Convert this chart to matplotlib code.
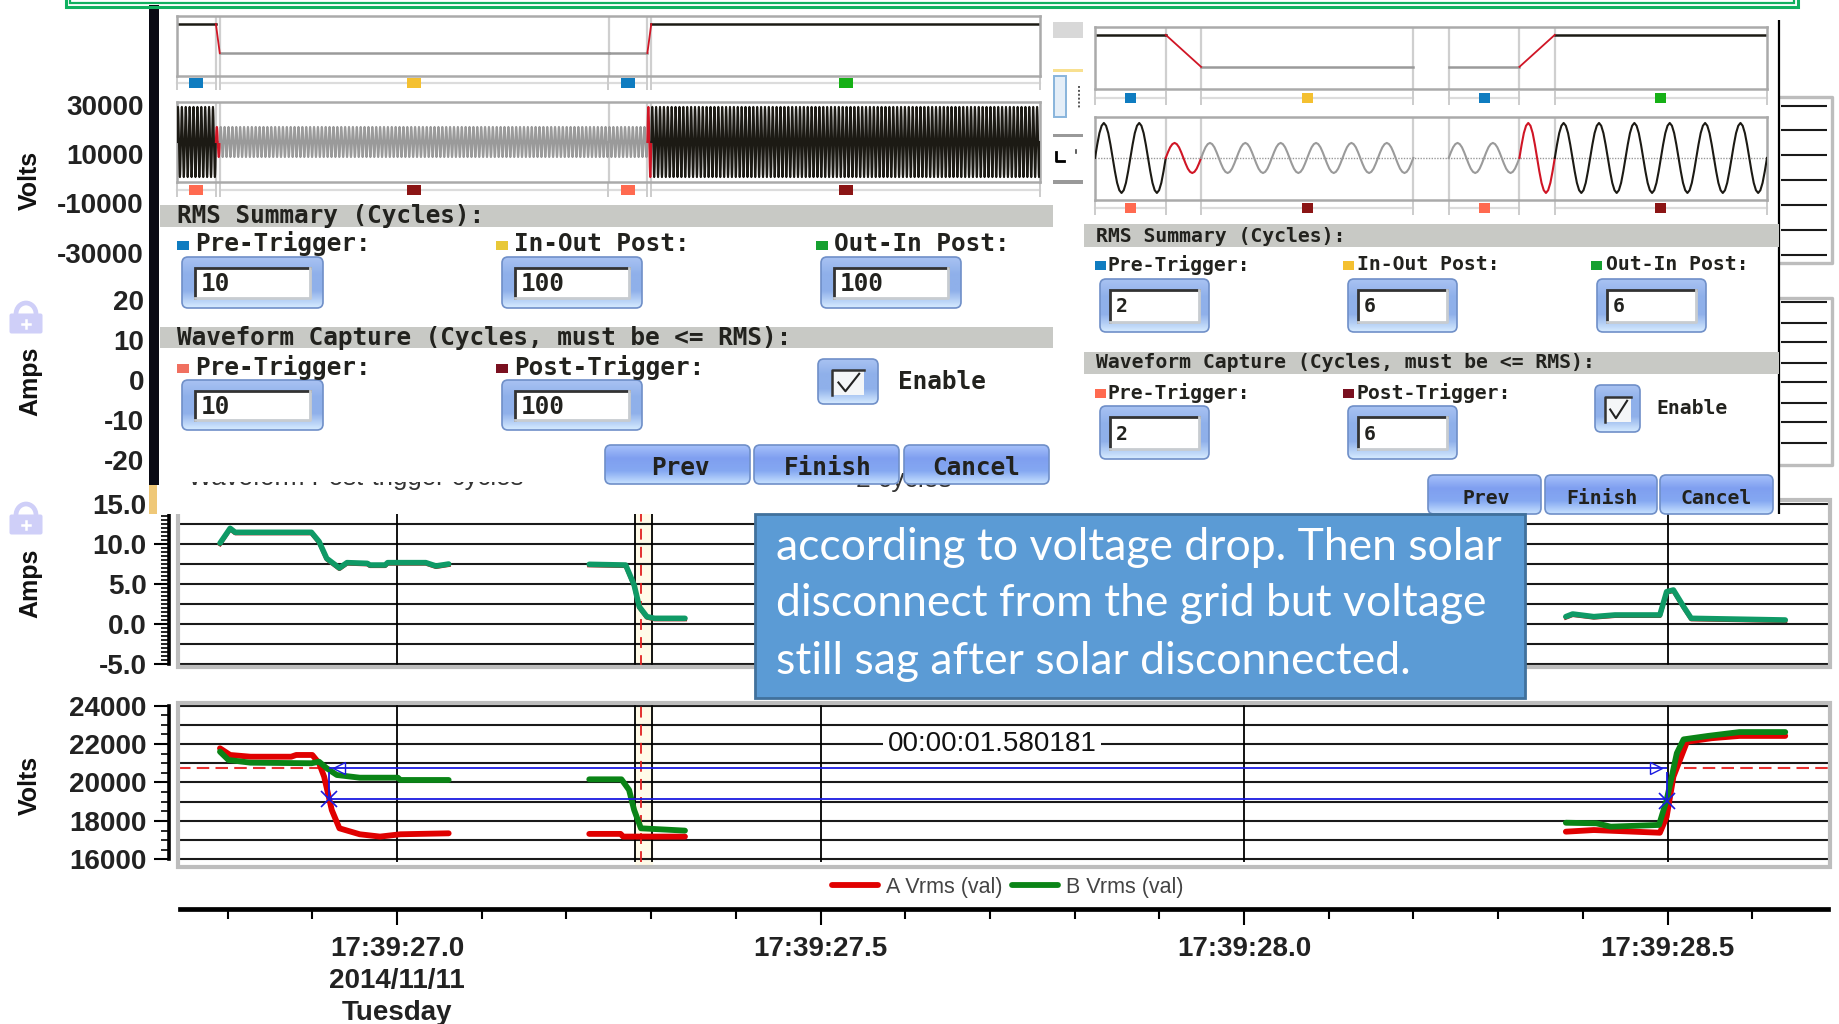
import numpy as np
import matplotlib
matplotlib.use('Agg')
import matplotlib.pyplot as plt
from matplotlib.patches import Rectangle, FancyBboxPatch, Arc

W, H = 1839, 1024
plt.rcParams['font.family'] = ['Liberation Sans', 'DejaVu Sans']

# ---- bottom charts data (seconds after 17:39:00)
amps_x = [[26.791, 26.803, 26.809, 26.899, 26.908, 26.917, 26.932, 26.941, 26.965, 26.968, 26.986, 26.989, 27.034, 27.046, 27.061],
          [27.227, 27.270, 27.280, 27.286, 27.295, 27.304, 27.340],
          [28.38, 28.388, 28.413, 28.438, 28.491, 28.499, 28.507, 28.519, 28.528, 28.639]]
amps_y = [[10.1, 11.96, 11.46, 11.46, 10.3, 8.2, 7.0, 7.67, 7.58, 7.37, 7.37, 7.67, 7.67, 7.25, 7.5],
          [7.46, 7.37, 4.87, 2.17, 0.92, 0.71, 0.71],
          [0.92, 1.25, 0.92, 1.13, 1.13, 4.04, 4.25, 2.17, 0.71, 0.5]]

va_x = [[26.791, 26.803, 26.827, 26.875, 26.881, 26.900, 26.908, 26.914, 26.923, 26.932, 26.956, 26.980, 27.004, 27.061],
        [27.227, 27.264, 27.267, 27.340],
        [28.38, 28.413, 28.491, 28.499, 28.507, 28.523, 28.552, 28.585, 28.639]]
va_y = [[21777, 21430, 21340, 21340, 21430, 21430, 21000, 20300, 18570, 17620, 17310, 17190, 17310, 17360],
        [17330, 17330, 17190, 17190],
        [17445, 17530, 17390, 18220, 20300, 22120, 22300, 22420, 22420]]
vb_x = [[26.791, 26.801, 26.827, 26.899, 26.908, 26.917, 26.929, 26.956, 27.001, 27.004, 27.061],
        [27.227, 27.265, 27.274, 27.280, 27.288, 27.340],
        [28.38, 28.416, 28.433, 28.490, 28.499, 28.511, 28.519, 28.548, 28.585, 28.639]]
vb_y = [[21600, 21170, 21030, 21000, 21080, 20740, 20390, 20250, 20250, 20130, 20130],
        [20165, 20165, 19610, 18570, 17620, 17500],
        [17910, 17880, 17705, 17795, 19090, 21520, 22240, 22420, 22620, 22620]]

time_major = [27.0, 27.5, 28.0, 28.5]
time_minor = [26.8, 26.9, 27.1, 27.2, 27.3, 27.4, 27.6, 27.7, 27.8, 27.9, 28.1, 28.2, 28.3, 28.4, 28.6]
time_labels = ['17:39:27.0\n2014/11/11\nTuesday', '17:39:27.5', '17:39:28.0', '17:39:28.5']
cursor_band = [27.281, 27.3006]
cursor_red = 27.288
cursor_left, cursor_right = 26.920, 28.499
level_hi, level_lo = 20740, 19140
elapsed = '00:00:01.580181'

# ---- dialog data: (cycles, amplitude, colour), amplitude None = gap
one_cycle = [0, .38, .71, .92, 1, .92, .71, .38, 0, -.38, -.71, -.92, -1, -.92, -.71, -.38]
BLK, GRY, RED = '#1c1a14', '#9a9a9a', '#d01525'
segs_left = [(10, 1, BLK), (1, .43, RED), (100, .43, GRY), (10, .43, GRY), (1, 1, RED), (100, 1, BLK)]
segs_right = [(2, 1, BLK), (1, .43, RED), (6, .43, GRY), (1, None, None), (2, .43, GRY), (1, 1, RED), (6, 1, BLK)]
left_values = [['10', '100', '100'], ['10', '100']]
right_values = [['2', '6', '6'], ['2', '6']]
volts_side = [('30000', 108), ('10000', 157), ('-10000', 206), ('-30000', 256)]
amps_side = [('20', 303), ('10', 343), ('0', 383), ('-10', 423), ('-20', 463)]
note_lines = ['according to voltage drop. Then solar', 'disconnect from the grid but voltage', 'still sag after solar disconnected.']

PX_S = 847


def px_axes(x0, y0, x1, y1, z=1):
    return fig.add_axes([x0 / W, 1 - y1 / H, (x1 - x0) / W, (y1 - y0) / H], zorder=z)


fig = plt.figure(figsize=(W / 100, H / 100), dpi=100, facecolor='white')

# ---- Amps / Volts charts
X0, X1 = 178, 1830
xlim = (27 + (X0 - 397) / PX_S, 27 + (X1 - 397) / PX_S)
ax_a = px_axes(X0, 500, X1, 667)
ax_v = px_axes(X0, 703, X1, 867)
ax_a.set_ylim(-5.375, 15.5)
ax_v.set_ylim(15610, 24130)
for ax, grid, major, minor, fmt in [
        (ax_a, np.arange(-5, 15.1, 2.5), [-5, 0, 5, 10, 15], np.arange(-5, 15.1, .5), '%.1f'),
        (ax_v, np.arange(16000, 24001, 1000), [16000, 18000, 20000, 22000, 24000], np.arange(16000, 24001, 500), '%d')]:
    ax.set_xlim(xlim)
    ax.add_patch(Rectangle((0, 0), 1, 1, transform=ax.transAxes, fill=False, ec='#bdbdbd', lw=3, clip_on=False, zorder=6))
    for s in ['top', 'right', 'bottom']:
        ax.spines[s].set_visible(False)
    ax.spines['left'].set_position(('outward', 6.6))
    ax.spines['left'].set_linewidth(2.6)
    ax.spines['left'].set_bounds(grid[0], grid[-1])
    ax.set_xticks([])
    ax.set_yticks(major)
    ax.set_yticklabels([fmt % m for m in major], fontsize=20, fontweight='bold', color='#222222')
    ax.set_yticks(minor, minor=True)
    ax.tick_params(axis='y', which='major', length=11, width=1.5, pad=5)
    ax.tick_params(axis='y', which='minor', length=6, width=1.2)
    ax.hlines(grid, xlim[0], xlim[1], color='#1a1a1a', lw=1.5, zorder=1)
    ymin = grid[0] - (grid[-1] - grid[0]) * .015
    ax.axvspan(cursor_band[0], cursor_band[1], color='#fffbe8', zorder=0)
    ax.vlines(time_major + cursor_band, ymin, ax.get_ylim()[1], color='black', lw=1.3, zorder=2)
    ax.vlines(cursor_red, ymin, ax.get_ylim()[1], color='#e02020', lw=1.3, ls=(0, (6, 4)), zorder=2)

for xs, ys in zip(amps_x, amps_y):
    ax_a.plot(xs, np.array(ys) - .12, color='#b01818', lw=3, zorder=3)
    ax_a.plot(xs, ys, color='#0f9a66', lw=4, zorder=4, solid_capstyle='round')
for i in range(3):
    line_a, = ax_v.plot(va_x[i], va_y[i], color='#e00000', lw=4.2, zorder=3, solid_capstyle='round')
for i in range(3):
    line_b, = ax_v.plot(vb_x[i], vb_y[i], color='#0a8416', lw=4.2, zorder=4, solid_capstyle='round')

ax_v.hlines(level_hi, xlim[0], cursor_left, color='#e83030', lw=1.5, ls=(0, (6, 3)), zorder=2)
ax_v.hlines(level_hi, 28.52, xlim[1], color='#e83030', lw=1.5, ls=(0, (6, 3)), zorder=2)
ax_v.hlines([level_hi, level_lo], cursor_left, cursor_right, color='#1a1ae0', lw=1.3, zorder=5)
ax_v.vlines([cursor_left, cursor_right], level_lo, level_hi - 200, color='#1a1ae0', lw=1.3, zorder=5)
ax_v.plot([cursor_left, cursor_right], [level_lo, level_lo - 100], 'x', color='#1a1ae0', ms=11, mew=1.2, ls='none', zorder=5)
ax_v.plot([cursor_left + .012], [level_hi], '<', mfc='none', mec='#1a1ae0', ms=9, zorder=5)
ax_v.plot([cursor_right - .012], [level_hi], '>', mfc='none', mec='#1a1ae0', ms=9, zorder=5)
ax_v.text(27 + (992 - 397) / PX_S, 22000, elapsed, ha='center', va='center', fontsize=20, color='#111111',
          bbox=dict(fc='white', ec='none', pad=3), zorder=5)
ax_v.legend([line_a, line_b], ['A Vrms (val)', 'B Vrms (val)'], ncol=2, frameon=False, fontsize=15.5,
            labelcolor='#444444', loc='center', bbox_to_anchor=((1008 - X0) / (X1 - X0), -0.125),
            handlelength=2.1, handletextpad=.4, columnspacing=.45, borderpad=0)

# ---- time axis
ax_t = px_axes(180, 880, 1828, 909)
ax_t.set_xlim(27 + (180 - 397) / PX_S, 27 + (1828 - 397) / PX_S)
ax_t.set_ylim(0, 1)
ax_t.patch.set_visible(False)
for s in ['top', 'right', 'left']:
    ax_t.spines[s].set_visible(False)
ax_t.spines['bottom'].set_linewidth(3.4)
ax_t.set_yticks([])
ax_t.set_xticks(time_major)
ax_t.set_xticklabels(time_labels, fontsize=20, fontweight='bold', color='#222222', linespacing=1.3)
ax_t.set_xticks(time_minor, minor=True)
ax_t.tick_params(axis='x', which='major', length=11.5, width=1.5, pad=8)
ax_t.tick_params(axis='x', which='minor', length=7, width=1.5)

# ---- overlay in pixels
ov = px_axes(0, 0, W, H, z=5)
ov.set_xlim(0, W)
ov.set_ylim(H, 0)
ov.axis('off')
ov.patch.set_visible(False)


def rect(x0, y0, x1, y1, color, z=1, **kw):
    ov.add_patch(Rectangle((x0, y0), x1 - x0, y1 - y0, fc=color, ec='none', zorder=z, **kw))


def grad_box(x0, y0, x1, y1, colors, z=3, edge='#6f8fc8'):
    box = FancyBboxPatch((x0 + 3, y0 + 3), x1 - x0 - 6, y1 - y0 - 6, boxstyle='round,pad=3,rounding_size=6',
                         fc='none', ec=edge, lw=1.2, zorder=z + .1)
    ov.add_patch(box)
    rgb = matplotlib.colors.to_rgba_array(colors)[:, :3]
    pos = np.linspace(0, 1, 40)
    img = np.stack([np.interp(pos, np.linspace(0, 1, len(colors)), rgb[:, c]) for c in range(3)], axis=1)[:, None, :]
    im = ov.imshow(img, extent=(x0, x1, y1, y0), aspect='auto', zorder=z, origin='upper')
    im.set_clip_path(box)


def gui_text(x, y, s, size, **kw):
    ov.text(x, y, s, fontsize=size, fontweight='bold', family='DejaVu Sans Mono', color='#22221e', va='center', zorder=6, **kw)


def input_box(x0, y0, x1, y1, val, size, dx, row_h):
    grad_box(x0, y0, x1, y1, ['#a8c2f2', '#8fb0ea', '#8fb0ea', '#d5eaff'])
    ix0, iy0, ix1, iy1 = x0 + dx, y0 + row_h, x1 - dx, y1 - row_h + 1
    rect(ix0, iy0, ix1, iy1, 'white', z=4)
    ov.plot([ix0, ix0, ix1], [iy1, iy0, iy0], color='#333333', lw=2, zorder=5, solid_joinstyle='miter')
    ov.plot([ix0, ix1, ix1], [iy1, iy1, iy0], color='#c8ccd0', lw=2, zorder=5)
    gui_text(ix0 + 6, (iy0 + iy1) / 2 + 1, val, size)


def check_box(x0, y0, x1, y1, ix0, iy0, ix1, iy1):
    grad_box(x0, y0, x1, y1, ['#a8c2f2', '#8fb0ea', '#8fb0ea', '#d5eaff'])
    rect(ix0, iy0, ix1, iy1, '#f4f6f8', z=4)
    ov.plot([ix0, ix0, ix1], [iy1, iy0, iy0], color='#333333', lw=1.8, zorder=5)
    w, h = ix1 - ix0, iy1 - iy0
    ov.plot([ix0 + .2 * w, ix0 + .42 * w, ix0 + .85 * w], [iy0 + .5 * h, iy0 + .85 * h, iy0 + .15 * h],
            color='#222222', lw=1.5, zorder=5)


def button(x0, y0, x1, y1, label, xc, yc, size):
    grad_box(x0, y0, x1, y1, ['#a6c0fa', '#7f9ff0', '#85a8f2', '#c5e0ff'])
    gui_text(xc, yc, label, size, ha='center')


def wave_panels(segs, x0, x1, rms_box, wave_box, rms_lim, wave_lim, strip1, strip2, dotted, mk_w, wave_lw):
    total = sum(s[0] for s in segs)
    to_px = lambda c: x0 + (x1 - x0) * c / total
    ax_r = px_axes(x0, rms_box[0], x1, rms_box[1], z=7)
    ax_w = px_axes(x0, wave_box[0], x1, wave_box[1], z=7)
    ax_r.set_ylim(rms_lim)
    ax_w.set_ylim(wave_lim)
    edges = np.cumsum([0] + [s[0] for s in segs])
    for ax in (ax_r, ax_w):
        ax.set_xlim(0, total)
        ax.set_xticks([])
        ax.set_yticks([])
        ax.patch.set_visible(False)
        for sp in ax.spines.values():
            sp.set_color('#aaaaaa')
            sp.set_linewidth(1.8)
        ax.vlines(edges[1:-1], *ax.get_ylim(), color='#cfcfcf', lw=1.6, zorder=1)
    if dotted:
        ax_w.axhline(0, color='#999999', lw=1, ls=(0, (1, 1)), zorder=1)
    for i, (n, amp, col) in enumerate(segs):
        if amp is None:
            continue
        st = edges[i]
        xs = st + np.arange(n * len(one_cycle) + 1) / len(one_cycle)
        ys = amp * np.array(one_cycle * n + [0])
        ax_w.plot(xs, ys, color=col, lw=wave_lw, zorder=3)
        if col == RED:
            ax_r.plot([st, st + n], [segs[i - 1][1], segs[i + 1][1]], color=col, lw=1.3, zorder=3)
        else:
            ax_r.plot([st, st + n], [amp, amp], color=col, lw=1.8, zorder=2)
    # marker strips under both panels
    for i, (n, amp, col) in enumerate(segs):
        if amp is None or col == RED:
            continue
        a, b = to_px(edges[i]), to_px(edges[i + 1])
        if i + 1 < len(segs) and segs[i + 1][2] == RED:
            c1, c2 = '#0f7cc0', '#ff6a50'
        elif amp < 1:
            c1, c2 = '#f4c030', '#8b1515'
        else:
            c1, c2 = '#16b016', '#8b1515'
        for yc, c in ((strip1, c1), (strip2, c2)):
            ov.plot([a, b], [yc, yc], color='#dcdcdc', lw=1.6, zorder=2)
            ov.vlines([a, b], yc - 7, yc + 7, color='#cccccc', lw=1.4, zorder=2)
            rect((a + b) / 2 - mk_w / 2, yc - 5, (a + b) / 2 + mk_w / 2, yc + 5, c, z=3)


# covers and bars
rect(157, 0, 1053, 514, 'white', z=1)
rect(1053, 0, 1779, 514, 'white', z=1)
rect(149, 5, 159, 485, '#0a0a14', z=2)
rect(149, 485, 157, 514, '#efc878', z=2)
ov.vlines(1779, 20, 514, color='black', lw=1.6, zorder=2)

# green border on top
ov.add_patch(Rectangle((66, -6), 1732, 13, fc='none', ec='#10b060', lw=2.2, zorder=8))
ov.add_patch(Rectangle((70, -6), 1724, 9, fc='none', ec='#10b060', lw=1.6, zorder=8))

# bit of a window showing between the two dialogs
rect(1053, 22, 1083, 38, '#d8d8d8', z=2)
rect(1053, 69, 1083, 72, '#f8e090', z=2)
ov.add_patch(Rectangle((1054, 76), 12, 41, fc='#e4eef8', ec='#88b4dc', lw=1.4, zorder=2))
ov.plot([1079, 1079], [86, 108], color='#555555', lw=1.4, ls=(0, (1, 1)), zorder=2)
rect(1053, 134, 1083, 137, '#999999', z=2)
rect(1053, 180, 1083, 184, '#999999', z=2)
ov.plot([1056, 1056, 1064], [152, 161, 161], color='black', lw=2, zorder=2)
ov.plot([1076, 1076], [150, 153], color='#444444', lw=1.2, zorder=2)

# left dialog
FS1, FS2 = 17.6, 14.2
wave_panels(segs_left, 177, 1040, (16, 76), (102, 182), (-.02, 1.157), (-1.14, 1.14), 83, 190, False, 14, 1.5)
rect(160, 205, 1053, 227, '#c8c9c5', z=2)
rect(160, 327, 1053, 348, '#c8c9c5', z=2)
gui_text(177, 216, 'RMS Summary (Cycles):', FS1)
gui_text(177, 338, 'Waveform Capture (Cycles, must be <= RMS):', FS1)
for x_sq, x_tx, lab, col in [(177, 195, 'Pre-Trigger:', '#0f7cc0'), (496, 514, 'In-Out Post:', '#e8c838'), (816, 834, 'Out-In Post:', '#16a030')]:
    rect(x_sq, 241, x_sq + 12, 250, col, z=3)
    gui_text(x_tx, 244, lab, FS1)
for x_sq, x_tx, lab, col in [(177, 195, 'Pre-Trigger:', '#f07060'), (496, 514, 'Post-Trigger:', '#7a1020')]:
    rect(x_sq, 364, x_sq + 12, 373, col, z=3)
    gui_text(x_tx, 367, lab, FS1)
for (x0, x1), v in zip([(182, 323), (502, 642), (821, 961)], left_values[0]):
    input_box(x0, 257, x1, 308, v, FS1, 13, 11)
for (x0, x1), v in zip([(182, 323), (502, 642)], left_values[1]):
    input_box(x0, 380, x1, 430, v, FS1, 13, 11)
check_box(818, 359, 878, 404, 832, 370, 864, 395)
gui_text(898, 382, 'Enable', FS1)
ov.text(188, 478, 'Waveform Post-trigger cycles', fontsize=18.5, color='#333333', va='center', zorder=2)
ov.text(856, 480, '2 cycles', fontsize=19, color='#333333', va='center', zorder=2)
rect(160, 440, 604, 482, 'white', z=2.5)
button(605, 445, 750, 484, 'Prev', 680, 468, FS1)
button(754, 445, 899, 484, 'Finish', 828, 468, FS1)
button(904, 445, 1049, 484, 'Cancel', 976, 468, FS1)

# right dialog
wave_panels(segs_right, 1095, 1767, (27, 89), (117, 200), (.036, 1.14), (-1.2, 1.17), 98, 208, True, 11, 1.5)
rect(1084, 224, 1779, 247, '#c8c9c5', z=2)
rect(1084, 352, 1779, 374, '#c8c9c5', z=2)
gui_text(1096, 236, 'RMS Summary (Cycles):', FS2)
gui_text(1096, 363, 'Waveform Capture (Cycles, must be <= RMS):', FS2)
for x_sq, x_tx, lab, col in [(1095, 1108, 'Pre-Trigger:', '#0f7cc0'), (1343, 1357, 'In-Out Post:', '#f4c030'), (1591, 1606, 'Out-In Post:', '#16a030')]:
    rect(x_sq, 261, x_sq + 11, 270, col, z=3)
    gui_text(x_tx, 265, lab, FS2)
for x_sq, x_tx, lab, col in [(1095, 1108, 'Pre-Trigger:', '#ff6a50'), (1343, 1357, 'Post-Trigger:', '#7a1020')]:
    rect(x_sq, 389, x_sq + 11, 398, col, z=3)
    gui_text(x_tx, 393, lab, FS2)
for (x0, x1), v in zip([(1100, 1209), (1348, 1457), (1597, 1706)], right_values[0]):
    input_box(x0, 279, x1, 332, v, FS2, 10, 11)
for (x0, x1), v in zip([(1100, 1209), (1348, 1457)], right_values[1]):
    input_box(x0, 406, x1, 459, v, FS2, 10, 11)
check_box(1595, 385, 1640, 432, 1605, 397, 1631, 422)
gui_text(1656, 409, 'Enable', FS2)
button(1428, 475, 1541, 514, 'Prev', 1486, 499, FS2)
button(1545, 475, 1657, 514, 'Finish', 1602, 499, FS2)
button(1660, 475, 1773, 514, 'Cancel', 1716, 499, FS2)

# bits of other charts to the right of it
for y0, y1, rows in [(97, 263, [106, 130, 155, 180, 205, 230, 255]), (298, 465, [302, 323, 342, 363, 382, 403, 422, 443])]:
    ov.plot([1780, 1832, 1832, 1780], [y0, y0, y1, y1], color='#bdbdbd', lw=2.4, zorder=1.5)
    ov.hlines(rows, 1781, 1827, color='#1a1a1a', lw=1.5, zorder=2)

# left side labels that belong to the covered charts
for lab, y in volts_side + amps_side:
    ov.text(144, y, lab, ha='right', va='center', fontsize=20, fontweight='bold', color='#222222', zorder=3)
for lab, y in [('Volts', 180), ('Amps', 381), ('Amps', 583), ('Volts', 785)]:
    ov.text(30, y, lab, rotation=90, ha='center', va='center', fontsize=18, fontweight='bold', color='#111111', zorder=3)
for y0 in (302, 503):
    ov.add_patch(Arc((26, y0 + 12), 20, 22, theta1=180, theta2=360, ec='#cfcff8', lw=3.4, zorder=3))
    ov.add_patch(FancyBboxPatch((11, y0 + 13), 30, 17, boxstyle='round,pad=1.5,rounding_size=2', fc='#cfcff8', ec='none', zorder=3))
    ov.plot([26, 26], [y0 + 18, y0 + 26], color='white', lw=1.8, zorder=4)
    ov.plot([22, 30], [y0 + 22, y0 + 22], color='white', lw=1.8, zorder=4)

# blue note
ov.add_patch(Rectangle((755, 514), 770, 184, fc='#5b9bd5', ec='#41719c', lw=2, zorder=4))
for line, y in zip(note_lines, [547, 604, 662]):
    ov.text(776, y, line, color='white', fontsize=32, family='Lato', va='center', zorder=5)

ov.set_xlim(0, W)
ov.set_ylim(H, 0)
ov.set_aspect('auto')
fig.savefig('out.png', dpi=100)
